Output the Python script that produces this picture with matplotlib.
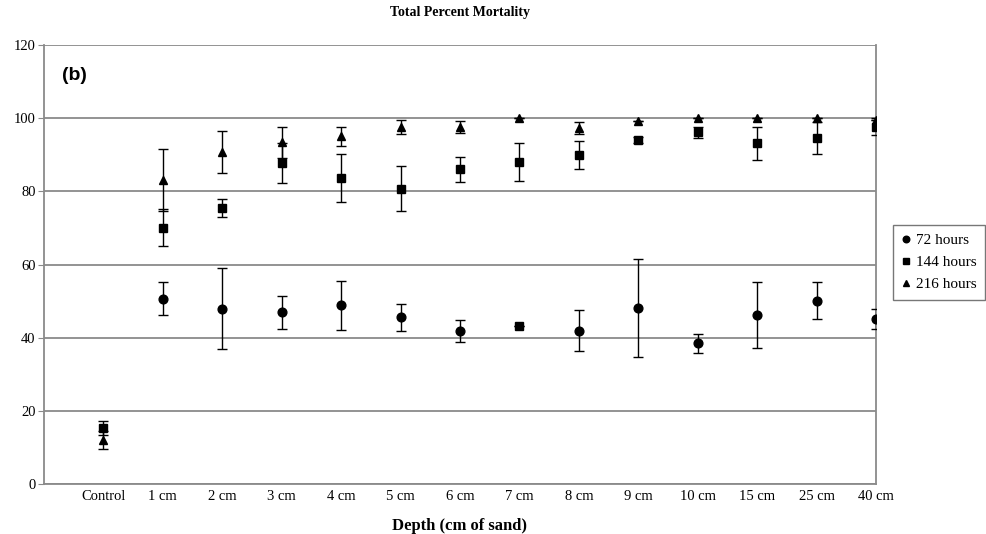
"""
Total percent mortality by burial depth, three exposure times (panel b).
"""

import matplotlib.pyplot as plt
import numpy as np

plt.rcParams.update({
    'font.family': 'serif',
    'font.serif': ['Liberation Serif', 'DejaVu Serif'],
    'font.size': 10,
})

GRID = '#8a8a8a'
NAN = np.nan

# ── data ─────────────────────────────────────────────────────
depths = ['Control', '1 cm', '2 cm', '3 cm', '4 cm', '5 cm', '6 cm',
          '7 cm', '8 cm', '9 cm', '10 cm', '15 cm', '25 cm', '40 cm']

mort_72 = [NAN, 50.7, 47.9, 46.9, 48.8, 45.6, 41.9,
           43.3, 41.9, 48.1, 38.5, 46.3, 50.1, 45.2]
err_72 = [NAN, 4.6, 11.1, 4.6, 6.6, 3.7, 3.0,
          0.0, 5.6, 13.3, 2.6, 9.0, 5.1, 2.7]

mort_144 = [15.3, 70.1, 75.5, 87.7, 83.6, 80.7, 86.0,
            88.0, 90.0, 94.0, 96.1, 93.1, 94.6, 97.7]
err_144 = [2.0, 5.0, 2.5, 5.5, 6.5, 6.1, 3.5,
           5.2, 3.8, 0.8, 1.4, 4.6, 4.3, 2.4]

mort_216 = [12.1, 83.2, 90.8, 93.4, 95.0, 97.6, 97.6,
            100.0, 97.4, 99.3, 100.0, 100.0, 100.0, 99.6]
err_216 = [2.5, 8.5, 5.8, 4.3, 2.6, 1.9, 1.7,
           0.0, 1.6, 0.0, 0.0, 0.0, 0.0, 0.0]

# the 7 cm 72 h point is drawn with a square in the original figure
square_72 = ['7 cm']

# ── figure ───────────────────────────────────────────────────
fig = plt.figure(figsize=(9.86, 5.34), dpi=100)
ax = fig.add_axes([0.0446, 0.0936, 0.8438, 0.8221])

x = np.arange(len(depths))
m72 = np.array(mort_72)
is_sq = np.array([d in square_72 for d in depths])

eb = dict(fmt='none', ecolor='black', elinewidth=1.0, capsize=3.5,
          capthick=1.0, zorder=3)

ax.errorbar(x, mort_72, yerr=err_72, **eb)
ax.errorbar(x, mort_144, yerr=err_144, **eb)
ax.errorbar(x, mort_216, yerr=err_216, **eb)

ax.plot(x, np.where(is_sq, NAN, m72), 'o', color='black', ms=6.3,
        zorder=4, label='72 hours')
ax.plot(x, np.where(is_sq, m72, NAN), 's', color='black', ms=5.8,
        zorder=4)
ax.plot(x, mort_144, 's', color='black', ms=5.8, zorder=4,
        label='144 hours')
ax.plot(x, mort_216, '^', color='black', ms=6.3, zorder=5,
        label='216 hours')

ax.set_xlim(-1, len(depths) - 1)
ax.set_ylim(0, 120)
ax.set_yticks(np.arange(0, 121, 20))
ax.set_xticks(x)
ax.set_xticklabels(depths, fontsize=10.5)
ax.tick_params(axis='y', length=4, color=GRID, labelsize=10.5, pad=2)
ax.tick_params(axis='x', length=0, pad=4)

ax.yaxis.grid(True, color=GRID, lw=1.3)
ax.set_axisbelow(True)
ax.spines['top'].set_visible(False)
for side in ('left', 'bottom', 'right'):
    ax.spines[side].set_color(GRID)
    ax.spines[side].set_linewidth(1.3)

ax.set_title('Total Percent Mortality', fontsize=10, fontweight='bold',
             pad=21)
ax.set_xlabel('Depth (cm of sand)', fontsize=12, fontweight='bold',
              labelpad=11)

ax.text(0.022, 0.93, '(b)', transform=ax.transAxes, ha='left', va='center',
        fontsize=14, fontweight='bold', family='Liberation Sans')

leg = ax.legend(loc='center left', bbox_to_anchor=(1.02, 0.505),
                frameon=True, fancybox=False, fontsize=11,
                handlelength=0.6, handletextpad=0.4, markerscale=0.75,
                borderpad=0.55, labelspacing=0.55, borderaxespad=0)
leg.get_frame().set_edgecolor('#555555')
leg.get_frame().set_linewidth(1.0)

fig.savefig('out.png', dpi=100, facecolor='white')
